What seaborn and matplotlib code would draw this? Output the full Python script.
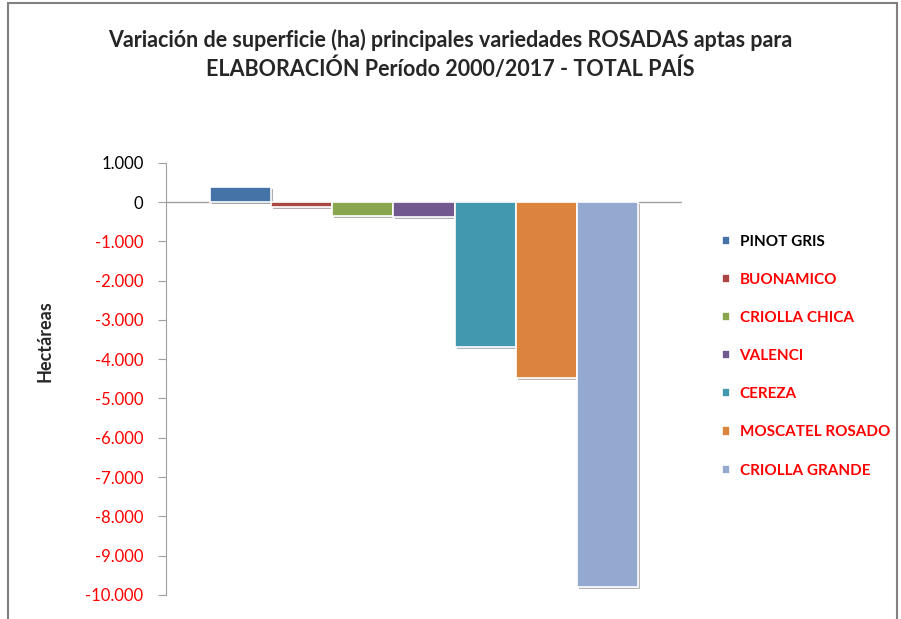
import numpy as np
import pandas as pd
import seaborn as sns
import matplotlib.pyplot as plt
from matplotlib.patches import Rectangle
from matplotlib.ticker import FuncFormatter
import matplotlib.patheffects as pe

# datos (ha)
variedades = ['PINOT GRIS', 'BUONAMICO', 'CRIOLLA CHICA', 'VALENCI',
              'CEREZA', 'MOSCATEL ROSADO', 'CRIOLLA GRANDE']
variacion = [380, -120, -360, -370, -3700, -4480, -9800]
colores = ['#4572A7', '#AA4643', '#89A54E', '#71588F',
           '#4198AF', '#DB843D', '#93A9CF']
color_etiqueta = ['black', 'red', 'red', 'red', 'red', 'red', 'red']

df = pd.DataFrame({'grupo': ['TOTAL'] * len(variedades),
                   'variedad': variedades,
                   'ha': variacion})

sns.set_style('white')
plt.rcParams['font.family'] = ['Lato', 'DejaVu Sans']

fig = plt.figure(figsize=(9.01, 6.19), dpi=100)
ax = fig.add_axes([0.184, 0.039, 0.573, 0.698])

sns.barplot(data=df, x='grupo', y='ha', hue='variedad', hue_order=variedades,
            palette=colores, saturation=1, width=0.83, gap=0, dodge=True, ax=ax,
            edgecolor='white', linewidth=1.2, legend=True)

ax.set_xlim(-0.5, 0.5)
ax.set_ylim(-10000, 1000)
ax.set_yticks(np.arange(-10000, 1001, 1000))
ax.yaxis.set_major_formatter(FuncFormatter(lambda v, _: f'{int(v):,}'.replace(',', '.')))
ax.tick_params(axis='y', left=True, length=6, color='#a0a0a0', labelsize=12, pad=10)
for t in ax.get_yticklabels():
    t.set_color('red' if t.get_text().startswith(('-', '\u2212')) else 'black')
ax.set_xticks([])
ax.set_xlabel('')
ax.set_ylabel('Hectáreas', fontsize=13, fontweight='bold')
ax.yaxis.set_label_coords(-0.218, 0.588)

for s in ['top', 'right', 'bottom']:
    ax.spines[s].set_visible(False)
ax.spines['left'].set_color('#a0a0a0')
ax.axhline(0, color='#a0a0a0', linewidth=1, zorder=0)

leg = ax.legend(loc='upper left', bbox_to_anchor=(0.786, 0.643),
                bbox_transform=fig.transFigure, frameon=False,
                handlelength=0.55, handleheight=0.55, handletextpad=0.6,
                labelspacing=1.58, prop={'size': 11, 'weight': 'bold'})
for txt, c in zip(leg.get_texts(), color_etiqueta):
    txt.set_color(c)

# sombra solo en las barras
for cont in ax.containers:
    for p in cont:
        p.set_path_effects([pe.SimplePatchShadow(offset=(1.5, -1.5), alpha=0.35),
                            pe.Normal()])

fig.text(0.5, 0.912, 'Variación de superficie (ha) principales variedades ROSADAS aptas para\n'
         'ELABORACIÓN Período 2000/2017 - TOTAL PAÍS',
         ha='center', va='center', fontsize=15.5, fontweight='bold', linespacing=1.3)

fig.patches.append(Rectangle((8 / 901, -0.05), 889 / 901, 1.05 - 3 / 619,
                             transform=fig.transFigure, fill=False,
                             edgecolor='#808080', linewidth=1.5))

fig.savefig('out.png', dpi=100)
